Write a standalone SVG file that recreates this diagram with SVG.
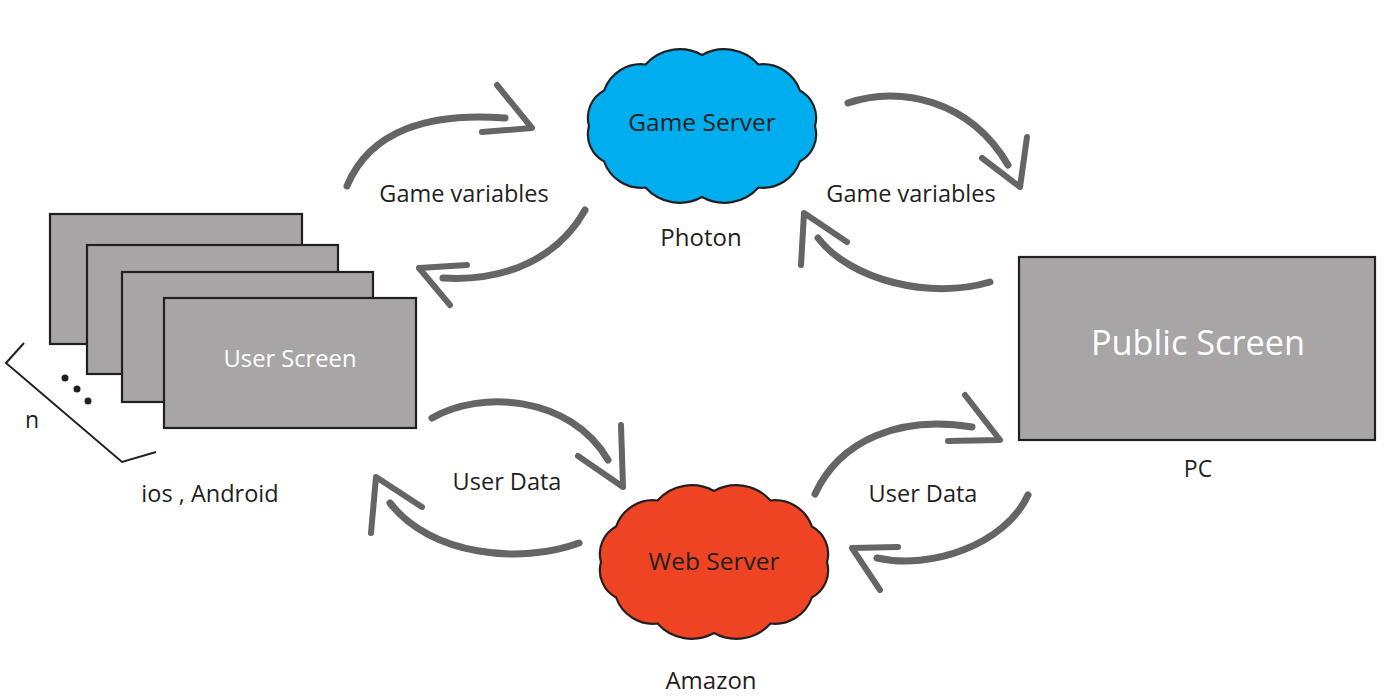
<svg xmlns="http://www.w3.org/2000/svg" width="1394" height="698" viewBox="0 0 1394 698">
<style>
.lbl{font-family:"Open Sans","Noto Sans",sans-serif;fill:#231f20;text-anchor:middle}
.wt{font-family:"Open Sans","Noto Sans",sans-serif;fill:#ffffff;text-anchor:middle}
.scr{fill:#a7a5a6;stroke:#231f20;stroke-width:2.2}
.cloud{stroke:#231f20;stroke-width:2.2}
.shaft{fill:none;stroke:#666466;stroke-width:7;stroke-linecap:round;stroke-linejoin:round}
.head{fill:none;stroke:#666466;stroke-width:6;stroke-linecap:round;stroke-linejoin:round}
</style>
<defs>
<path id="cloudShape" d="M113,0 A30.9,30.9 0 0 1 97.9,35.5 A39.1,39.1 0 0 1 56.5,61.5 A45.8,45.8 0 0 1 0,71 A45.8,45.8 0 0 1 -56.5,61.5 A39.1,39.1 0 0 1 -97.9,35.5 A30.9,30.9 0 0 1 -113,0 A30.9,30.9 0 0 1 -97.9,-35.5 A39.1,39.1 0 0 1 -56.5,-61.5 A45.8,45.8 0 0 1 0,-71 A45.8,45.8 0 0 1 56.5,-61.5 A39.1,39.1 0 0 1 97.9,-35.5 A30.9,30.9 0 0 1 113,0 Z"/>
</defs>
<rect width="1394" height="698" fill="#ffffff"/>

<g id="game-server">
<use href="#cloudShape" transform="translate(702,126)" class="cloud" fill="#00aeef"/>
<text class="lbl" x="702" y="131" font-size="24.5">Game Server</text>
<text class="lbl" x="701" y="246" font-size="24">Photon</text>
</g>

<g id="web-server">
<use href="#cloudShape" transform="translate(714,562)" class="cloud" fill="#ef4423"/>
<text class="lbl" x="714" y="570" font-size="24.5">Web Server</text>
<text class="lbl" x="711" y="689" font-size="24">Amazon</text>
</g>

<g id="user-screens">
<rect class="scr" x="50" y="214" width="252" height="130"/>
<rect class="scr" x="87" y="245" width="251" height="129"/>
<rect class="scr" x="122" y="272" width="251" height="130"/>
<rect class="scr" x="164" y="298" width="252" height="130"/>
<text class="wt" x="290" y="367" font-size="23.7">User Screen</text>
<polyline points="24,343 6,363 122,462 156,452" fill="none" stroke="#231f20" stroke-width="2"/>
<circle cx="65" cy="378" r="3.5" fill="#231f20"/>
<circle cx="77" cy="389" r="3.5" fill="#231f20"/>
<circle cx="88" cy="401" r="3.5" fill="#231f20"/>
<text class="lbl" x="32" y="428" font-size="23">n</text>
<text class="lbl" x="210" y="502" font-size="23.5">ios , Android</text>
</g>

<g id="public-screen">
<rect class="scr" x="1019" y="257" width="356" height="183" stroke-width="2.5"/>
<text class="wt" x="1198" y="355" font-size="34.3">Public Screen</text>
<text class="lbl" x="1198" y="477" font-size="23">PC</text>
</g>

<g id="connectors">
<path class="shaft" d="M347,186 C370,130 430,112 505,118"/>
<path class="head" d="M497,85 L532,128 L482,132"/>
<path class="shaft" d="M585,210 C560,255 510,282 443,278"/>
<path class="head" d="M467,265 L419,268 L450,305"/>
<path class="shaft" d="M848,103 C900,85 970,100 1008,165"/>
<path class="head" d="M1027,137 L1020,187 L982,158"/>
<path class="shaft" d="M990,282 C930,300 850,280 818,238"/>
<path class="head" d="M801,265 L804,213 L847,242"/>
<path class="shaft" d="M432,418 C480,390 570,395 608,460"/>
<path class="head" d="M621,425 L623,487 L578,456"/>
<path class="shaft" d="M579,543 C520,565 430,555 390,503"/>
<path class="head" d="M371,533 L376,477 L422,507"/>
<path class="shaft" d="M815,494 C840,440 900,415 972,427"/>
<path class="head" d="M965,395 L1000,440 L948,441"/>
<path class="shaft" d="M1028,495 C1005,545 930,570 877,558"/>
<path class="head" d="M898,547 L852,548 L880,590"/>
</g>

<g id="labels">
<text class="lbl" x="464" y="202" font-size="23.5">Game variables</text>
<text class="lbl" x="911" y="202" font-size="23.5">Game variables</text>
<text class="lbl" x="507" y="490" font-size="23.5">User Data</text>
<text class="lbl" x="923" y="502" font-size="23.5">User Data</text>
</g>
</svg>
